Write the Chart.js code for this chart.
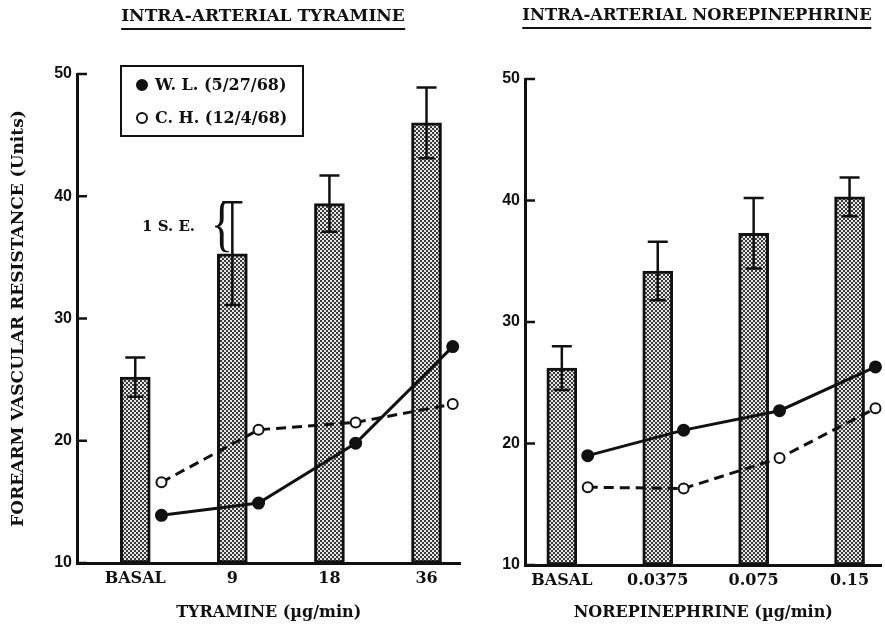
<!DOCTYPE html>
<html>
<head>
<meta charset="utf-8">
<script src="https://cdn.jsdelivr.net/npm/chart.js@4.4.1/dist/chart.umd.min.js"></script>
<style>
  body { margin: 0; background: #fff; }
  #wrap { position: relative; width: 885px; height: 630px; overflow: hidden; font-family: "DejaVu Serif", serif; color: #111; }
  .panel { position: absolute; top: 0; height: 630px; }
  .ptitle { position: absolute; top: 5px; font-weight: bold; font-size: 17px; white-space: nowrap;
            transform: translateX(-50%); border-bottom: 2.5px solid #111; padding-bottom: 3px; }
  #legend { position: absolute; left: 120px; top: 65px; width: 180px; height: 68px; border: 2px solid #111;
            font-weight: bold; font-size: 16px; }
  #legend div { position: absolute; left: 14px; white-space: nowrap; }
  #legend span.dot { display: inline-block; width: 12px; height: 12px; border-radius: 50%; border: 2px solid #111;
            box-sizing: border-box; margin-right: 7px; vertical-align: -1px; }
  #se { position: absolute; left: 142px; top: 217px; font-weight: bold; font-size: 15px; white-space: nowrap; }
  #brace { position: absolute; left: 207px; top: 192px; font-family: "Liberation Serif", serif; font-size: 62px; line-height: 62px;
           transform: scaleX(0.75); }
</style>
</head>
<body>
<div id="wrap">
  <div class="panel" style="left:0;width:468px"><canvas id="left"></canvas></div>
  <div class="panel" style="left:465px;width:424px"><canvas id="right"></canvas></div>
  <div class="ptitle" style="left:263px">INTRA-ARTERIAL TYRAMINE</div>
  <div class="ptitle" style="left:697px;font-size:16.4px">INTRA-ARTERIAL NOREPINEPHRINE</div>
  <div id="legend">
    <div style="top:8px"><span class="dot" style="background:#111"></span>W. L. (5/27/68)</div>
    <div style="top:41px"><span class="dot"></span>C. H. (12/4/68)</div>
  </div>
  <div id="se">1 S. E.</div>
  <div id="brace">{</div>
</div>
<script>
// tyramine panel
var tyrCategories = ['BASAL', '9', '18', '36'];
var tyrMeans = [25.2, 35.3, 39.4, 46.0];
var tyrSE = [1.6, 4.2, 2.3, 2.9];
var tyrWL = [13.9, 14.9, 19.8, 27.7];
var tyrCH = [16.6, 20.9, 21.5, 23.0];

// norepinephrine panel
var neCategories = ['BASAL', '0.0375', '0.075', '0.15'];
var neMeans = [26.2, 34.2, 37.3, 40.3];
var neSE = [1.8, 2.4, 2.9, 1.6];
var neWL = [19.0, 21.1, 22.7, 26.3];
var neCH = [16.4, 16.3, 18.8, 22.9];

var yTicks = [10, 20, 30, 40, 50];

function hatch() {
  var c = document.createElement('canvas');
  c.width = 4; c.height = 4;
  var g = c.getContext('2d');
  g.fillStyle = '#e6e6e6'; g.fillRect(0, 0, 4, 4);
  g.fillStyle = '#3a3a3a'; g.fillRect(0, 0, 2, 2); g.fillRect(2, 2, 2, 2);
  return g.createPattern(c, 'repeat');
}

// error bars + inward y tick marks
var extras = {
  id: 'extras',
  afterDatasetsDraw: function(chart, args, o) {
    var ctx = chart.ctx, xs = chart.scales.x, ys = chart.scales.y;
    ctx.save();
    ctx.strokeStyle = '#111';
    ctx.lineWidth = 2.5;
    o.means.forEach(function(m, i) {
      var x = xs.getPixelForValue(i);
      var hi = ys.getPixelForValue(m + o.se[i]);
      var lo = ys.getPixelForValue(m - o.se[i]);
      ctx.beginPath();
      ctx.moveTo(x, hi); ctx.lineTo(x, lo);
      ctx.moveTo(x - 10, hi); ctx.lineTo(x + 10, hi);
      ctx.moveTo(x - 8, lo); ctx.lineTo(x + 8, lo);
      ctx.stroke();
    });
    ys.ticks.forEach(function(t) {
      var y = ys.getPixelForValue(t.value);
      ctx.beginPath();
      ctx.moveTo(chart.chartArea.left, y);
      ctx.lineTo(chart.chartArea.left + 10, y);
      ctx.stroke();
    });
    ctx.restore();
  }
};

function makePanel(id, cats, means, se, wl, ch, cfg) {
  var off = 0.27;
  return new Chart(document.getElementById(id), {
    type: 'bar',
    data: {
      datasets: [
        {
          type: 'line', label: 'W. L. (5/27/68)', order: 1, clip: false,
          data: wl.map(function(v, i) { return { x: i + off, y: v }; }),
          borderColor: '#111', borderWidth: 3, backgroundColor: '#111',
          pointRadius: 5.5, pointBorderWidth: 2, pointBackgroundColor: '#111'
        },
        {
          type: 'line', label: 'C. H. (12/4/68)', order: 2, clip: false,
          data: ch.map(function(v, i) { return { x: i + off, y: v }; }),
          borderColor: '#111', borderWidth: 3, borderDash: [10, 6],
          pointRadius: 5, pointBorderWidth: 2, pointBackgroundColor: '#fff'
        },
        {
          label: 'mean', order: 3,
          data: means.map(function(v, i) { return { x: i, y: v }; }),
          base: 10, barThickness: 30, borderSkipped: false,
          borderColor: '#111', borderWidth: 3, backgroundColor: hatch()
        }
      ]
    },
    options: {
      responsive: false, animation: false, maintainAspectRatio: false,
      layout: { padding: { left: 0, right: cfg.padRight, top: cfg.padTop, bottom: 0 } },
      plugins: {
        legend: { display: false }, tooltip: { enabled: false },
        extras: { means: means, se: se }
      },
      scales: {
        x: {
          type: 'linear', offset: false, min: cfg.xMin, max: cfg.xMax,
          afterBuildTicks: function(s) { s.ticks = cats.map(function(c, i) { return { value: i }; }); },
          afterFit: function(s) { s.height = cfg.xHeight; },
          ticks: { color: '#111', padding: 6, autoSkip: false, maxRotation: 0,
                   font: { family: 'DejaVu Serif', weight: 'bold', size: 16 },
                   callback: function(v) { return cats[v]; } },
          grid: { display: false, drawTicks: false },
          border: { display: true, color: '#111', width: 3 },
          title: { display: true, text: cfg.xTitle, color: '#111', padding: { top: 0, bottom: 8 },
                   font: { family: 'DejaVu Serif', weight: 'bold', size: 16 } }
        },
        y: {
          min: 10, max: 50,
          afterBuildTicks: function(s) { s.ticks = yTicks.map(function(v) { return { value: v }; }); },
          afterFit: function(s) { s.width = cfg.yWidth; },
          ticks: { color: '#111', padding: 5, font: { family: 'Liberation Sans', weight: 'bold', size: 16 } },
          grid: { display: false, drawTicks: false },
          border: { display: true, color: '#111', width: 3 },
          title: { display: !!cfg.yTitle, text: cfg.yTitle, color: '#111', padding: { top: 8, bottom: 0 },
                   font: { family: 'DejaVu Serif', weight: 'bold', size: 17 } }
        }
      }
    },
    plugins: [extras]
  });
}

document.getElementById('left').width = 468;
document.getElementById('left').height = 630;
document.getElementById('right').width = 424;
document.getElementById('right').height = 630;

makePanel('left', tyrCategories, tyrMeans, tyrSE, tyrWL, tyrCH, {
  padTop: 74, padRight: 1, xHeight: 67, yWidth: 77, xMin: -0.6, xMax: 3.35,
  xTitle: 'TYRAMINE (\u00b5g/min)', yTitle: 'FOREARM VASCULAR RESISTANCE (Units)'
});
makePanel('right', neCategories, neMeans, neSE, neWL, neCH, {
  padTop: 79, padRight: 0, xHeight: 65, yWidth: 60, xMin: -0.384, xMax: 3.333,
  xTitle: 'NOREPINEPHRINE (\u00b5g/min)', yTitle: ''
});
</script>
</body>
</html>
